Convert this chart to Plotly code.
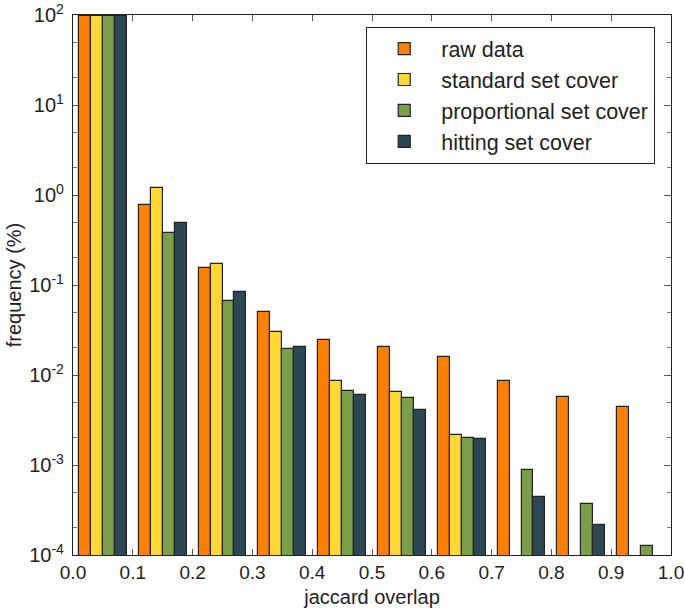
import plotly.graph_objects as go

bin_starts = [0.0, 0.1, 0.2, 0.3, 0.4, 0.5, 0.6, 0.7, 0.8, 0.9]
series_names = ["raw data", "standard set cover", "proportional set cover", "hitting set cover"]
raw_data = [97.0, 0.774, 0.156, 0.0497, 0.0245, 0.0203, 0.0158, 0.00865, 0.00574, 0.00437]
standard_set_cover = [97.0, 1.19, 0.171, 0.0303, 0.00858, 0.00647, 0.00215, None, None, None]
proportional_set_cover = [97.0, 0.381, 0.0664, 0.0196, 0.0067, 0.0056, 0.00201, 0.00088, 0.000372, 0.000126]
hitting_set_cover = [97.0, 0.492, 0.0843, 0.0205, 0.00594, 0.00408, 0.00195, 0.000438, 0.000216, None]
colors = ["#ff8000", "#ffd932", "#7b9e48", "#2b4854"]

series_values = [raw_data, standard_set_cover, proportional_set_cover, hitting_set_cover]
bar_w = 0.02
group_pad = 0.01

fig = go.Figure()
for i, (name, vals, col) in enumerate(zip(series_names, series_values, colors)):
    xs, ys = [], []
    for b, v in zip(bin_starts, vals):
        if v is None:
            continue
        xs.append(b + group_pad + bar_w * i + bar_w / 2)
        ys.append(v)
    fig.add_trace(go.Bar(
        x=xs, y=ys, width=bar_w, name=name,
        marker=dict(color=col, line=dict(color="#222222", width=1.2)),
    ))

font_family = "Liberation Sans, Arial, sans-serif"
yt = [1e-4, 1e-3, 1e-2, 1e-1, 1e0, 1e1, 1e2]
ytext = ["10<sup>-4</sup>", "10<sup>-3</sup>", "10<sup>-2</sup>", "10<sup>-1</sup>",
         "10<sup>0</sup>", "10<sup>1</sup>", "10<sup>2</sup>"]

fig.update_layout(
    width=685, height=614,
    margin=dict(l=73, r=14, t=15, b=59),
    barmode="overlay",
    bargap=0,
    plot_bgcolor="white", paper_bgcolor="white",
    font=dict(family=font_family, size=20, color="#222222"),
    showlegend=True,
    legend=dict(
        x=0.49, y=0.978, xanchor="left", yanchor="top",
        bordercolor="#222222", borderwidth=1.2, bgcolor="white",
        font=dict(size=21.5), itemwidth=64, tracegroupgap=0,
    ),
    xaxis=dict(
        range=[0, 1.0], tickvals=[i / 10 for i in range(11)], tickformat=".1f",
        ticks="inside", ticklen=6, tickcolor="#555555",
        showline=True, linecolor="#222222", linewidth=1.2, mirror="allticks",
        showgrid=False, zeroline=False, automargin=False,
        title=dict(text="jaccard overlap", font=dict(size=20), standoff=8),
        tickfont=dict(size=19),
    ),
    yaxis=dict(
        type="log", range=[-4, 2],
        tickvals=yt, ticktext=ytext,
        ticks="inside", ticklen=7, tickcolor="#555555",
        minor=dict(ticks="inside", ticklen=4, tickcolor="#777777", showgrid=False),
        showline=True, linecolor="#222222", linewidth=1.2, mirror="allticks",
        showgrid=False, zeroline=False, automargin=False,
        ticklabelstandoff=4,
        title=dict(text="frequency (%)", font=dict(size=20), standoff=2),
        tickfont=dict(size=20),
    ),
)

fig.write_html("out.html", config={"displayModeBar": False},
               post_script="document.body.style.margin='0';")
